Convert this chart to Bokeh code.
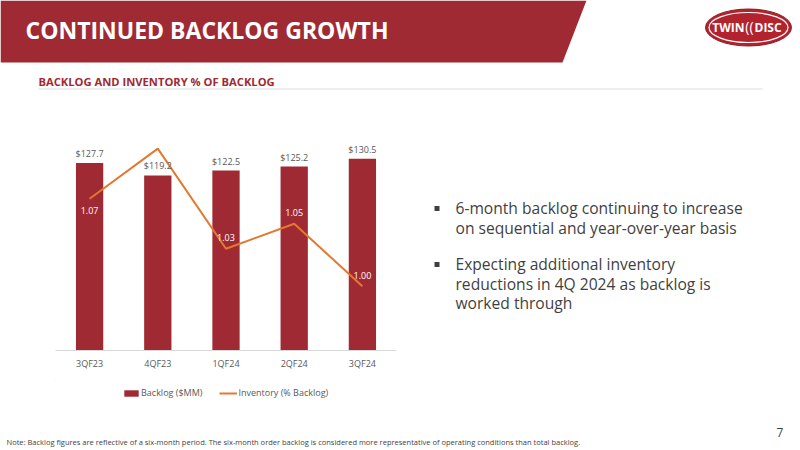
import numpy as np
from bokeh.plotting import figure
from bokeh.layouts import column, row
from bokeh.models import (FactorRange, Range1d, Label, LabelSet, ColumnDataSource,
                          Legend, LegendItem)
from bokeh.embed import file_html
from bokeh.resources import INLINE
from bokeh.core.properties import value

# ---- data ----
quarters = ["3QF23", "4QF23", "1QF24", "2QF24", "3QF24"]
backlog = [127.7, 119.2, 122.5, 125.2, 130.5]
inventory = [1.07, 1.11, 1.03, 1.05, 1.00]
inventory_label_shown = [True, False, True, True, True]

title_text = "CONTINUED BACKLOG GROWTH"
subtitle_text = "BACKLOG AND INVENTORY % OF BACKLOG"
bullet_lines = [
    ["6-month backlog continuing to increase", "on sequential and year-over-year basis"],
    ["Expecting additional inventory", "reductions in 4Q 2024 as backlog is", "worked through"],
]
note_text = ("Note: Backlog figures are reflective of a six-month period. The six-month order backlog "
             "is considered more representative of operating conditions than total backlog.")
page_number = "7"
legend_labels = ["Backlog ($MM)", "Inventory (% Backlog)"]

# ---- styles ----
RED = "#A02A33"
ORANGE = "#E4782F"
GREY = "#595959"
TEXT = "#3F3F3F"
FONT = "Open Sans"


def panel(x0, x1, y0, y1, fx0=None, fx1=None):
    """A blank figure whose data coordinates equal page pixels (y downward)."""
    f = figure(width=x1 - x0, height=y1 - y0,
               x_range=Range1d(fx0 if fx0 is not None else x0,
                               fx1 if fx1 is not None else x1),
               y_range=Range1d(y1, y0),
               output_backend="svg", toolbar_location=None, min_border=0,
               x_axis_location=None, y_axis_location=None,
               outline_line_color=None, background_fill_color="white",
               border_fill_color="white")
    f.xgrid.grid_line_color = None
    f.ygrid.grid_line_color = None
    return f


def label(f, x, y, text, size, color=TEXT, bold=False, align="left"):
    f.add_layout(Label(x=x, y=y, text=text, text_font=FONT,
                       text_font_style="bold" if bold else "normal",
                       text_font_size=size, text_color=color,
                       text_baseline="middle", text_align=align))


# ---- header ----
head = panel(0, 800, 0, 115)
head.patch([0, 586, 562, 0], [0, 0, 62, 62], fill_color=RED, line_color=None)
label(head, 25, 29, title_text, "23px", "white", bold=True)
label(head, 38, 81, subtitle_text, "11.2px", RED, bold=True)
head.line([38, 762], [88.5, 88.5], line_color="#DDDDDD", line_width=1)
head.ellipse(x=748, y=27, width=86, height=37, fill_color="#B3232E",
             line_color="#8A1B24", line_width=1)
head.ellipse(x=748, y=27, width=79, height=30, fill_alpha=0,
             line_color="white", line_width=1.2)
label(head, 744, 27, "TWIN", "12px", "white", bold=True, align="right")
label(head, 749, 26, "((", "14px", "white", align="center")
label(head, 754, 27, "DISC", "12px", "white", bold=True)

# ---- chart ----
chart = figure(width=400, height=265,
               x_range=FactorRange(factors=quarters, range_padding=0),
               y_range=Range1d(0, 160),
               output_backend="svg", toolbar_location=None,
               min_border_left=55, min_border_right=4,
               min_border_top=0, min_border_bottom=30,
               y_axis_location=None, outline_line_color=None,
               background_fill_color="white", border_fill_color="white")
chart.title.visible = False
chart.extra_y_ranges = {"inv": Range1d(0.9487, 1.1365)}

src = ColumnDataSource(dict(q=quarters, backlog=backlog,
                            blabel=[f"${v:.1f}" for v in backlog]))
bars = chart.vbar(x="q", top="backlog", width=0.4, source=src,
                  fill_color=RED, line_color=None)
inv_line = chart.line(x=quarters, y=inventory, y_range_name="inv",
                      line_color=ORANGE, line_width=2)

chart.add_layout(LabelSet(x="q", y="backlog", text="blabel", source=src,
                          y_offset=3, text_align="center", text_baseline="bottom",
                          text_font_size="9px", text_color=GREY,
                          text_font=value(FONT)))

iq = [q for q, s in zip(quarters, inventory_label_shown) if s]
iv = [v for v, s in zip(inventory, inventory_label_shown) if s]
ioff = [-12 if i == 0 else 11 for i in range(len(iq))]
isrc = ColumnDataSource(dict(q=iq, v=iv, t=[f"{v:.2f}" for v in iv], off=ioff))
chart.add_layout(LabelSet(x="q", y="v", text="t", source=isrc, y_range_name="inv",
                          y_offset="off", text_align="center", text_baseline="middle",
                          text_font_size="9px", text_color="white",
                          text_font=value(FONT)))

chart.xgrid.grid_line_color = None
chart.ygrid.grid_line_color = None
ax = chart.xaxis[0]
ax.axis_line_color = "#D9D9D9"
ax.major_tick_line_color = None
ax.minor_tick_line_color = None
ax.major_label_text_font_size = "9px"
ax.major_label_text_color = GREY
ax.major_label_text_font = FONT
ax.major_label_standoff = 0

# ---- legend strip (its frame is aligned with the chart frame: page x 55..396) ----
strip = panel(0, 400, 380, 410, fx0=55, fx1=396)
# swatch renderers: a single point placed outside the visible strip
sw_bar = strip.vbar(x=[-100], top=[-100], bottom=[-101], width=1,
                    fill_color=RED, line_color=None)
sw_line = strip.line(x=[-100, -99], y=[-100, -100], line_color=ORANGE, line_width=2)
legend = Legend(items=[LegendItem(label=legend_labels[0], renderers=[sw_bar]),
                       LegendItem(label=legend_labels[1], renderers=[sw_line])],
                orientation="horizontal", location=(122 - 55, 11),
                glyph_width=18, glyph_height=8, label_standoff=1, spacing=17,
                padding=0, margin=0, border_line_color=None,
                background_fill_alpha=0, label_text_font_size="9px",
                label_text_color=GREY, label_text_font=FONT,
                label_height=8)
strip.add_layout(legend)

# ---- bullets ----
bul = panel(400, 800, 115, 410)
line_y = [[207, 227], [263, 283, 302]]
for lines, ys in zip(bullet_lines, line_y):
    bul.scatter(x=[436.5], y=[ys[0] + 1], marker="square", size=5,
                fill_color=TEXT, line_color=None)
    for txt, y in zip(lines, ys):
        label(bul, 455, y, txt, "15.6px")

# ---- footer ----
foot = panel(0, 800, 410, 450)
label(foot, 6, 441, note_text, "7.5px")
label(foot, 776, 432, page_number, "12px")

page = column(head, row(column(chart, strip), bul), foot)
open("out.html", "w").write(file_html(page, INLINE))
